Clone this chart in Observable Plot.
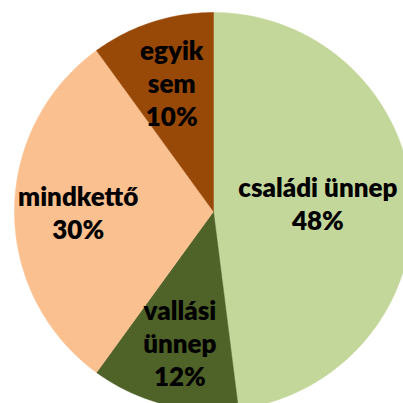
<!DOCTYPE html>
<html><head><meta charset="utf-8">
<script src="https://cdn.jsdelivr.net/npm/d3@7"></script>
<script src="https://cdn.jsdelivr.net/npm/@observablehq/plot@0.6"></script>
<style>html,body{margin:0;padding:0;overflow:hidden;background:#fff}</style>
</head><body><div id="chart"></div>
<script>
const categories = ["családi ünnep", "vallási ünnep", "mindkettő", "egyik sem"];
const labels = ["családi ünnep\n48%", "vallási\nünnep\n12%", "mindkettő\n30%", "egyik\nsem\n10%"];
const values = [48, 12, 30, 10];
const colors = ["#c4d79b", "#4f6228", "#fac090", "#984807"];

const W = 403, H = 403, cx = 213, cy = 211, R = 199;
const total = d3.sum(values);
const poly = [];
const labelPts = [];
let acc = 0;
const ctx = document.createElement("canvas").getContext("2d");
ctx.font = "800 26px Lato";
values.forEach((v, i) => {
  const a0 = acc / total * 2 * Math.PI, a1 = (acc + v) / total * 2 * Math.PI;
  acc += v;
  poly.push({cat: categories[i], x: 0, y: 0});
  const n = Math.max(2, Math.ceil((a1 - a0) / 0.01));
  for (let k = 0; k <= n; k++) {
    const a = a0 + (a1 - a0) * k / n;
    poly.push({cat: categories[i], x: Math.sin(a), y: Math.cos(a)});
  }
  poly.push({cat: categories[i], x: 0, y: 0});
  const m = (a0 + a1) / 2, lr = 0.68;
  let lx = Math.sin(m) * lr, ly = Math.cos(m) * lr;
  const hw = d3.max(labels[i].split("\n"), s => ctx.measureText(s).width) / 2;
  const maxX = (W - 6 - hw - cx) / R;
  if (lx > maxX) { lx = maxX; }
  labelPts.push({label: labels[i], x: lx, y: ly});
});

const chart = Plot.plot({
  width: W, height: H, margin: 0,
  x: {domain: [-cx / R, (W - cx) / R], range: [0, W], axis: null},
  y: {domain: [-(H - cy) / R, cy / R], range: [H, 0], axis: null},
  color: {domain: categories, range: colors},
  style: {fontFamily: "Lato, 'Open Sans', sans-serif", background: "#fff"},
  marks: [
    Plot.line(poly, {x: "x", y: "y", z: "cat", fill: "cat", stroke: "cat", strokeWidth: 0.5, curve: "linear", clip: true}),
    Plot.text(labelPts, {x: "x", y: "y", text: "label", fontSize: 26, fontWeight: 800, fill: "#000", lineHeight: 1.27, lineAnchor: "middle", textAnchor: "middle"})
  ]
});
document.getElementById("chart").appendChild(chart);
</script></body></html>
